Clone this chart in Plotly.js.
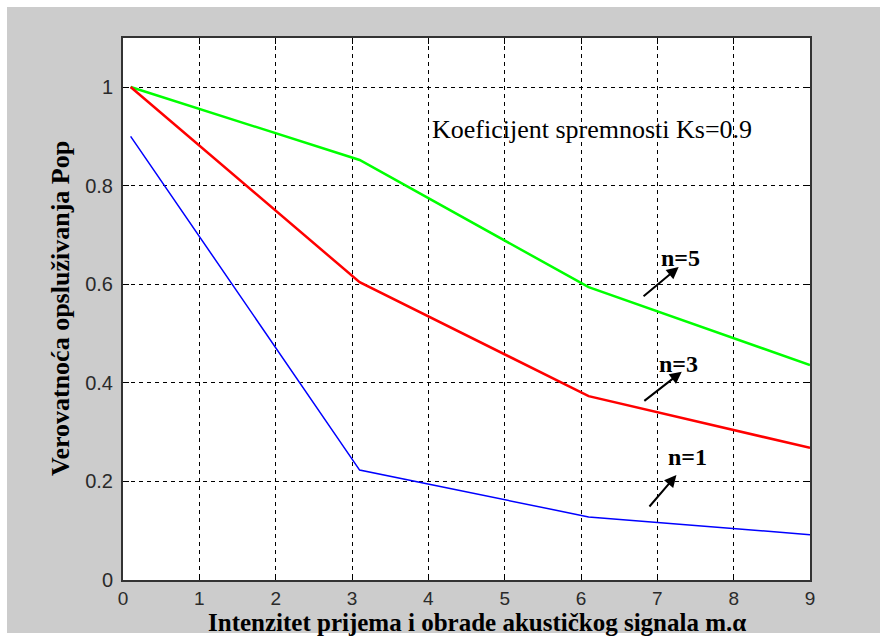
<!DOCTYPE html>
<html>
<head>
<meta charset="utf-8">
<script src="https://cdn.plot.ly/plotly-3.0.1.min.js"></script>
<style>
html,body{margin:0;padding:0;background:#ffffff;width:880px;height:639px;overflow:hidden;}
#bg{position:absolute;left:7px;top:7px;width:873px;height:626px;background:#cccccc;}
#chart{position:absolute;left:0;top:0;width:880px;height:639px;}
</style>
</head>
<body>
<div id="bg"></div>
<div id="chart"></div>
<script>
// Data
const xValues = [0.1, 3.1, 6.1, 9];
const pop_n5 = [1.0, 0.852, 0.594, 0.436];
const pop_n3 = [1.0, 0.604, 0.373, 0.268];
const pop_n1 = [0.9, 0.223, 0.128, 0.092];
const seriesNames = ["n=5", "n=3", "n=1"];
const xTicks = [0, 1, 2, 3, 4, 5, 6, 7, 8, 9];
const yTicks = [0, 0.2, 0.4, 0.6, 0.8, 1];
const yTickText = ["0", "0.2", "0.4", "0.6", "0.8", "1"];
const xTitle = "Intenzitet prijema i obrade akustičkog signala m.α";
const yTitle = "Verovatnoća opsluživanja Pop";
const noteText = "Koeficijent spremnosti Ks=0.9";

const traces = [
  {x: xValues, y: pop_n5, name: seriesNames[0], mode: "lines", line: {color: "#00ff00", width: 2.5}},
  {x: xValues, y: pop_n3, name: seriesNames[1], mode: "lines", line: {color: "#ff0000", width: 2.5}},
  {x: xValues, y: pop_n1, name: seriesNames[2], mode: "lines", line: {color: "#0000ff", width: 1.5}}
];

const serif = "Liberation Serif, Times New Roman, serif";
const xTickFont = {family: "Liberation Sans, Arial, sans-serif", size: 19, color: "#2a2a2a"};
const yTickFont = {family: "Liberation Sans, Arial, sans-serif", size: 20, color: "#2a2a2a"};

function arrow(tx, ty, ax, ay) {
  return {x: tx, y: ty, ax: ax, ay: ay, xref: "x", yref: "y", axref: "x", ayref: "y",
          text: "", showarrow: true, arrowhead: 2, arrowsize: 1.2, arrowwidth: 2, arrowcolor: "#000000"};
}
function label(txt, x, y) {
  return {x: x, y: y, xref: "x", yref: "y", text: "<b>" + txt + "</b>", showarrow: false,
          font: {family: serif, size: 24, color: "#000000"}};
}

const layout = {
  width: 880, height: 639,
  paper_bgcolor: "rgba(0,0,0,0)",
  plot_bgcolor: "#ffffff",
  showlegend: false,
  margin: {l: 123, r: 70, t: 38, b: 59},
  xaxis: {
    range: [0, 9], tickvals: xTicks, ticks: "inside", ticklen: 6, tickcolor: "#000000",
    showline: true, linecolor: "#333333", linewidth: 2, mirror: "ticks",
    showgrid: true, gridcolor: "#000000", gridwidth: 1, griddash: "4px,4px",
    zeroline: false, tickfont: xTickFont
  },
  yaxis: {
    range: [0, 1.0994], tickvals: yTicks, ticktext: yTickText, ticks: "inside", ticklen: 6, tickcolor: "#000000",
    showline: true, linecolor: "#333333", linewidth: 2, mirror: "ticks",
    showgrid: true, gridcolor: "#000000", gridwidth: 1, griddash: "4px,4px",
    zeroline: false, tickfont: yTickFont, ticklabelstandoff: 4
  },
  annotations: [
    {x: 0.515, y: -0.0775, xref: "paper", yref: "paper", xanchor: "center", yanchor: "middle",
     text: "<b>" + xTitle + "</b>", showarrow: false, font: {family: serif, size: 25, color: "#000000"}},
    {x: -0.0917, y: 0.5, xref: "paper", yref: "paper", xanchor: "center", yanchor: "middle", textangle: -90,
     text: "<b>" + yTitle + "</b>", showarrow: false, font: {family: serif, size: 26, color: "#000000"}},
    {x: 4.02, y: 0.913, xref: "x", yref: "y", xanchor: "left", text: noteText, showarrow: false,
     font: {family: serif, size: 26, color: "#000000"}},
    label(seriesNames[0], 7.30, 0.653),
    label(seriesNames[1], 7.28, 0.438),
    label(seriesNames[2], 7.39, 0.25),
    arrow(7.28, 0.635, 6.80, 0.573),
    arrow(7.32, 0.4225, 6.81, 0.361),
    arrow(7.25, 0.213, 6.88, 0.146)
  ]
};

Plotly.newPlot("chart", traces, layout, {displayModeBar: false, staticPlot: true});
</script>
</body>
</html>
